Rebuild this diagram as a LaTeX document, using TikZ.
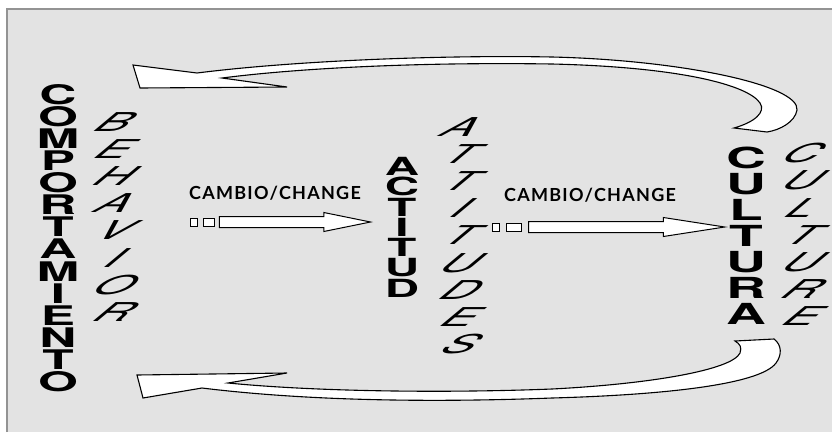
\documentclass[tikz,border=0pt]{standalone}
\usepackage{fontspec}
\setmainfont{TeX Gyre Heros}
\newfontfamily\widefont[FakeStretch=1.9]{TeX Gyre Heros}
\newfontfamily\leanfont[FakeStretch=1.85,FakeSlant=1.2]{TeX Gyre Heros}
\newfontfamily\labelfont[LetterSpace=7]{Lato}
\usetikzlibrary{positioning,shapes.arrows}

\begin{document}
\begin{tikzpicture}[x=1pt,y=-1pt,
  spanish/.style args={#1/#2}{font=\widefont\bfseries\fontsize{#1}{#2}\selectfont, align=center, inner sep=0pt, anchor=north},
  english/.style={font=\leanfont\fontsize{26}{27.2}\selectfont, align=center, inner sep=0pt, anchor=north},
  change/.style={font=\labelfont\bfseries\fontsize{18}{18}\selectfont, inner sep=0pt},
  changearrow/.style={single arrow, draw, fill=white, line width=1pt, inner xsep=0pt, inner ysep=5pt, single arrow head extend=4pt, anchor=tip},
  tick/.style={draw, fill=white, line width=0.8pt, inner sep=0pt, minimum height=8pt},
  returnband/.style={draw, fill=white, line width=1.1pt, line join=miter}]

\useasboundingbox (0,0) rectangle (832,432);
\fill [gray!22] (7,9) rectangle (832,432);
\draw [gray!85, line width=1.2pt] (7,432) -- (7,9) -- (832,9);

% words
\node [spanish=27/22.1] (comportamiento) at (58,84) {C\\O\\M\\P\\O\\R\\T\\A\\M\\I\\E\\N\\T\\O};
\node [english] (behavior) at (106,112) {B\\E\\H\\A\\V\\I\\O\\R};
\node [spanish=25/20.3] (actitud) at (402,157) {A\\C\\T\\I\\T\\U\\D};
\node [english] (attitudes) at (452,117) {A\\T\\T\\I\\T\\U\\D\\E\\S};
\node [spanish=29/25.9] (cultura) at (746,147) {C\\U\\L\\T\\U\\R\\A};
\node [english] (culture) at (794,143) {C\\U\\L\\T\\U\\R\\E};

% change arrows
\node [change] (change1) at (275,193) {CAMBIO/CHANGE};
\node [changearrow, minimum height=151pt, single arrow tip angle=23] (arrow1) at (373,222) {};
\node [tick, minimum width=11pt, left=4pt of arrow1.tail] (tick1b) {};
\node [tick, minimum width=7pt, left=5pt of tick1b] (tick1a) {};

\node [change] (change2) at (590,195) {CAMBIO/CHANGE};
\node [changearrow, minimum height=196pt, single arrow tip angle=17.6] (arrow2) at (728,227) {};
\node [tick, minimum width=15pt, left=6pt of arrow2.tail] (tick2b) {};
\node [tick, minimum width=7pt, left=7pt of tick2b] (tick2a) {};

% return arrows
\draw [returnband] (133,65) -- (197,73)
  .. controls (300,60) and (450,55) .. (552,57)
  .. controls (680,60) and (800,85) .. (797,110)
  .. controls (795,122) and (780,130) .. (767,132)
  -- (734,128)
  .. controls (755,122) and (766,112) .. (760,103)
  .. controls (748,85) and (680,67) .. (552,64)
  .. controls (420,62) and (300,68) .. (222,78)
  -- (287,87) -- (140,88) -- cycle;

\draw [returnband] (137,375) -- (287,373) -- (228,383)
  .. controls (320,392) and (450,393) .. (552,389)
  .. controls (650,384) and (732,370) .. (740,353)
  .. controls (742,347) and (740,344) .. (735,341)
  -- (774,339)
  .. controls (782,345) and (782,355) .. (776,363)
  .. controls (760,385) and (660,395) .. (552,398)
  .. controls (420,403) and (300,400) .. (202,388)
  -- (143,398) -- cycle;

\end{tikzpicture}
\end{document}
